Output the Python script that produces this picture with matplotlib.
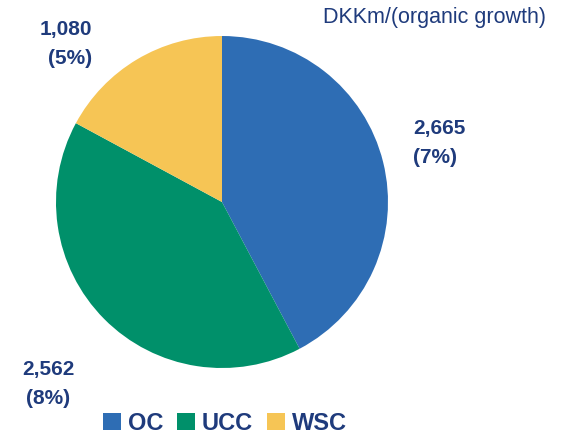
import matplotlib.pyplot as plt
from matplotlib.patches import Patch

plt.rcParams['font.family'] = ['Liberation Sans', 'DejaVu Sans']

# data
segments = ['OC', 'UCC', 'WSC']
values = [2665, 2562, 1080]
growth = ['7%', '8%', '5%']
colors = ['#2E6DB4', '#00906A', '#F6C555']
text_color = '#1F3B7C'

fig = plt.figure(figsize=(5.61, 4.38), dpi=100)
ax = fig.add_axes([0.0998, 0.1598, 0.5918, 0.758])

ax.pie(values, colors=colors, startangle=90, counterclock=False,
       wedgeprops=dict(linewidth=0))
ax.set_xlim(-1, 1)
ax.set_ylim(-1, 1)
ax.set_aspect('equal')

# labels for each slice: (x, y, alignment of the two lines)
label_pos = {'OC': (413, 143, 'left'), 'UCC': (22, 384, 'center'), 'WSC': (40, 44, 'right')}
for name, v, g in zip(segments, values, growth):
    px, py, al = label_pos[name]
    fig.text(px / 561, 1 - py / 438, f"{v:,}\n({g})", fontsize=15,
             fontweight='bold', color=text_color, ha='left', va='center',
             multialignment=al, linespacing=1.65)

fig.text(546 / 561, 1 - 18 / 438, 'DKKm/(organic growth)', fontsize=15.5,
         color=text_color, ha='right', va='center')

handles = [Patch(facecolor=c, edgecolor='none') for c in colors]
leg = fig.legend(handles, segments, loc='center', bbox_to_anchor=(225 / 561, 1 - 423 / 438),
                 ncol=3, frameon=False, handlelength=0.75, handleheight=0.75,
                 handletextpad=0.3, columnspacing=0.6, borderpad=0,
                 prop={'size': 17, 'weight': 'bold'})
for t in leg.get_texts():
    t.set_color(text_color)

fig.savefig('out.png', dpi=100)
